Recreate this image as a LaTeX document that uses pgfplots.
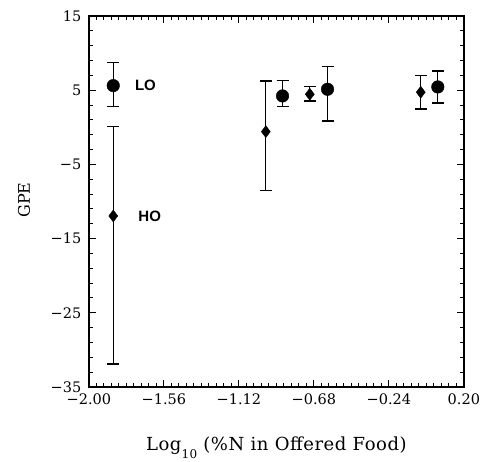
\documentclass[border=0pt]{standalone}
\usepackage{fontspec}
\setmainfont{DejaVu Serif}
\newfontfamily\lblfont[LetterSpace=3]{DejaVu Serif}
\newfontfamily\hv{Liberation Sans}
\usepackage{pgfplots}
\pgfplotsset{compat=1.18}

\begin{document}
\begin{tikzpicture}
\begin{axis}[
  scale only axis, width=375pt, height=371pt,
  xmin=-2, xmax=0.2, ymin=-35, ymax=15,
  xtick={-2,-1.56,-1.12,-0.68,-0.24,0.2},
  xticklabels={−2.00,−1.56,−1.12,−0.68,−0.24,0.20},
  ytick={-35,-25,-15,-5,5,15},
  yticklabels={−35,−25,−15,−5,5,15},
  minor xtick={-1.956,-1.912,...,0.19},
  minor ytick={-33,-31,...,13},
  major tick length=7pt, minor tick length=4pt,
  axis line style={line width=1.3pt},
  every tick/.style={black, line width=0.9pt},
  tick label style={font=\fontsize{14.5}{16}\selectfont},
  xticklabel style={yshift=-3pt},
  yticklabel style={xshift=-4pt},
  xlabel={\lblfont Log\raisebox{-8pt}{\fontsize{12}{14}\selectfont 10} (\%N in Offered Food)},
  ylabel={GPE},
  xlabel style={font=\fontsize{18}{20}\selectfont, at={(axis description cs:0.5,-0.172)}, anchor=base},
  ylabel style={font=\fontsize{16}{18}\selectfont, at={(axis description cs:-0.173,0.504)}, anchor=center},
  clip=false,
]
% circles (LO)
\addplot[only marks, mark=*, mark size=6.3pt, black,
  error bars/.cd, y dir=both, y explicit,
  error mark options={mark size=6pt, line width=1.2pt, rotate=90},
  error bar style={line width=1.2pt}]
coordinates {
  (-1.857,5.61) += (0,3.10) -= (0,2.83)
  (-0.864,4.22) += (0,2.06) -= (0,1.39)
  (-0.600,5.12) += (0,3.05) -= (0,4.27)
  (0.047,5.43) += (0,2.16) -= (0,2.16)
};
% diamonds (HO)
\addplot[only marks, mark=diamond*, mark size=6pt, black,
  error bars/.cd, y dir=both, y explicit,
  error mark options={mark size=6pt, line width=1.2pt, rotate=90},
  error bar style={line width=1.2pt}]
coordinates {
  (-1.857,-11.95) += (0,12.03) -= (0,19.95)
  (-0.962,-0.59) += (0,6.83) -= (0,7.95)
  (-0.704,4.45) += (0,1.02) -= (0,0.91)
  (-0.053,4.72) += (0,2.28) -= (0,2.25)
};
\node[anchor=west, font=\hv\bfseries\fontsize{15}{17}\selectfont] at (axis cs:-1.75,5.6) {LO};
\node[anchor=west, font=\hv\bfseries\fontsize{15}{17}\selectfont] at (axis cs:-1.73,-12) {HO};
\coordinate (bl) at (rel axis cs:-0.237,-0.202);
\coordinate (tr) at (rel axis cs:1.051,1.043);
\end{axis}
\pgfresetboundingbox
\path (bl) rectangle (tr);
\end{tikzpicture}
\end{document}
